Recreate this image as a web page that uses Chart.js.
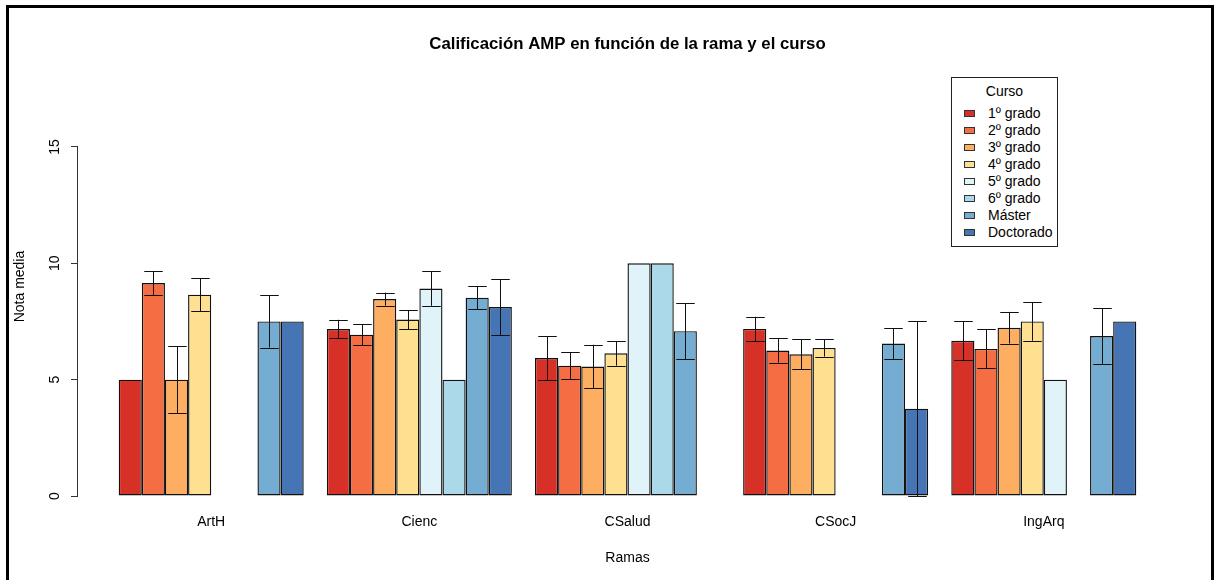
<!DOCTYPE html>
<html>
<head>
<meta charset="utf-8">
<script src="https://cdn.jsdelivr.net/npm/chart.js@4/dist/chart.umd.min.js"></script>
<style>
  html, body { margin: 0; padding: 0; background: #fff; width: 1222px; height: 580px; overflow: hidden; }
  #wrap { position: absolute; left: 0; top: 0; width: 1255px; height: 580px; }
  #frame { position: absolute; left: 6px; top: 5px; width: 1202px; height: 640px; border: 3px solid #000; pointer-events: none; }
  #legend { position: absolute; left: 951px; top: 77px; width: 105px; height: 168px; border: 1px solid #222;
            background: #fff; font-family: "Liberation Sans", Arial, sans-serif; font-size: 14px; color: #000; }
  #legend .ttl { position: absolute; left: 0; width: 100%; top: 4px; text-align: center; line-height: 18px; }
  #legend .row { position: absolute; left: 12px; height: 17px; line-height: 17px; white-space: nowrap; }
  #legend .sw { display: inline-block; box-sizing: border-box; width: 11px; height: 7px; border: 1px solid #333; vertical-align: middle; margin-right: 13px; position: relative; top: -1px; }
</style>
</head>
<body>
<div id="wrap"><canvas id="c" width="1255" height="580"></canvas></div>
<div id="legend"></div>
<div id="frame"></div>
<script>
// Grupos de rama y cursos
const categories = ['ArtH', 'Cienc', 'CSalud', 'CSocJ', 'IngArq'];
const courses = ['1º grado', '2º grado', '3º grado', '4º grado', '5º grado', '6º grado', 'Máster', 'Doctorado'];
const palette = ['#D73027', '#F46D43', '#FDAE61', '#FEE090', '#E0F3F8', '#ABD9E9', '#74ADD1', '#4575B4'];
const yTicks = [0, 5, 10, 15];

// Nota media por curso (una posición por rama) y su error
const media1 = [5.00, 7.17, 5.93, 7.18, 6.67];
const err1   = [null, 0.40, 0.94, 0.52, 0.84];
const media2 = [9.15, 6.93, 5.60, 6.25, 6.32];
const err2   = [0.51, 0.46, 0.57, 0.52, 0.84];
const media3 = [5.00, 8.46, 5.56, 6.09, 7.23];
const err3   = [1.44, 0.28, 0.94, 0.65, 0.68];
const media4 = [8.65, 7.58, 6.13, 6.36, 7.50];
const err4   = [0.70, 0.41, 0.53, 0.37, 0.83];
const media5 = [null, 8.91, 10.00, null, 5.00];
const err5   = [null, 0.74, null, null, null];
const media6 = [null, 5.00, 10.00, null, null];
const err6   = [null, null, null, null, null];
const mediaM = [7.50, 8.52, 7.08, 6.55, 6.87];
const errM   = [1.12, 0.50, 1.20, 0.66, 1.19];
const mediaD = [7.50, 8.12, null, 3.75, 7.50];
const errD   = [null, 1.20, null, 3.76, null];

const means = [media1, media2, media3, media4, media5, media6, mediaM, mediaD];
const errs  = [err1, err2, err3, err4, err5, err6, errM, errD];

const FONT = '"Liberation Sans", Arial, sans-serif';
Chart.defaults.font.family = FONT;
Chart.defaults.color = '#000';

// Barras de error (media ± error) con remates horizontales
const errorBars = {
  id: 'errorBars',
  afterDatasetsDraw(chart) {
    const ctx = chart.ctx;
    const ys = chart.scales.y;
    ctx.save();
    ctx.strokeStyle = '#111';
    ctx.lineWidth = 1;
    chart.data.datasets.forEach((ds, di) => {
      const meta = chart.getDatasetMeta(di);
      meta.data.forEach((bar, i) => {
        const m = ds.data[i], e = ds.errors[i];
        if (m == null || e == null) return;
        const x = Math.round(bar.x) + 0.5;
        const half = bar.width * 0.4;
        const yt = ys.getPixelForValue(m + e);
        const yb = ys.getPixelForValue(m - e);
        ctx.beginPath();
        ctx.moveTo(x, yt); ctx.lineTo(x, yb);
        ctx.moveTo(x - half, Math.round(yt) + 0.5); ctx.lineTo(x + half, Math.round(yt) + 0.5);
        ctx.moveTo(x - half, Math.round(yb) + 0.5); ctx.lineTo(x + half, Math.round(yb) + 0.5);
        ctx.stroke();
      });
    });
    ctx.restore();
  }
};

// Eje Y: línea solo entre la primera y la última marca
const axisSpine = {
  id: 'axisSpine',
  afterDraw(chart) {
    const ys = chart.scales.y;
    const ctx = chart.ctx;
    const x = Math.round(ys.right) - 0.5;
    ctx.save();
    ctx.strokeStyle = '#333';
    ctx.lineWidth = 1;
    ctx.beginPath();
    ctx.moveTo(x, ys.getPixelForValue(yTicks[0]));
    ctx.lineTo(x, ys.getPixelForValue(yTicks[yTicks.length - 1]));
    ctx.stroke();
    ctx.restore();
  }
};

// Margen lateral del área de dibujo, en fracción de grupo
const sideMargin = 0.14;

new Chart(document.getElementById('c'), {
  type: 'bar',
  data: {
    labels: categories,
    datasets: courses.map((c, k) => ({
      label: c,
      data: means[k],
      errors: errs[k],
      backgroundColor: palette[k],
      borderColor: '#111',
      borderWidth: 1.4,
      borderSkipped: false
    }))
  },
  options: {
    responsive: false,
    animation: false,
    devicePixelRatio: 1,
    layout: { padding: 0 },
    datasets: { bar: { categoryPercentage: 8 / 9, barPercentage: 1 } },
    plugins: {
      legend: { display: false },
      tooltip: { enabled: false },
      title: {
        display: true,
        text: 'Calificación AMP en función de la rama y el curso',
        color: '#000',
        font: { family: FONT, size: 16.8, weight: 'bold' },
        padding: { top: 33.9, bottom: 23.0 }
      }
    },
    scales: {
      x: {
        grid: { display: false, drawTicks: false },
        border: { display: false },
        ticks: { color: '#000', font: { size: 14 }, padding: 18 },
        title: { display: true, text: 'Ramas', color: '#000', font: { size: 14 }, padding: { top: 0, bottom: 13.2 } },
        afterBuildTicks(s) {
          s._startValue -= sideMargin;
          s._valueRange += 2 * sideMargin;
        },
        afterFit(s) { s.height = 84; }
      },
      y: {
        min: 0,
        max: 18,
        ticks: { stepSize: 5, minRotation: 90, maxRotation: 90, crossAlign: 'center', padding: 8, color: '#000', font: { size: 14 } },
        grid: { drawOnChartArea: false, drawTicks: true, tickLength: 7, color: '#333' },
        border: { display: false },
        title: { display: true, text: 'Nota media', color: '#000', font: { size: 14 }, padding: { top: 12.2, bottom: 0 } },
        afterBuildTicks(s) { s.ticks = yTicks.map(v => ({ value: v })); },
        afterFit(s) { s.width = 78; }
      },
      // margen derecho simétrico al eje Y (sin marcas ni texto)
      margen: {
        type: 'linear',
        position: 'right',
        display: true,
        grid: { display: false, drawTicks: false },
        border: { display: false },
        ticks: { display: false },
        afterFit(s) { s.width = 78; }
      }
    }
  },
  plugins: [errorBars, axisSpine]
});

// Leyenda "Curso"
const leg = document.getElementById('legend');
const ttl = document.createElement('div');
ttl.className = 'ttl';
ttl.textContent = 'Curso';
leg.appendChild(ttl);
courses.forEach((c, k) => {
  const row = document.createElement('div');
  row.className = 'row';
  row.style.top = (27 + 17 * k) + 'px';
  const sw = document.createElement('span');
  sw.className = 'sw';
  sw.style.background = palette[k];
  row.appendChild(sw);
  row.appendChild(document.createTextNode(c));
  leg.appendChild(row);
});
</script>
</body>
</html>
